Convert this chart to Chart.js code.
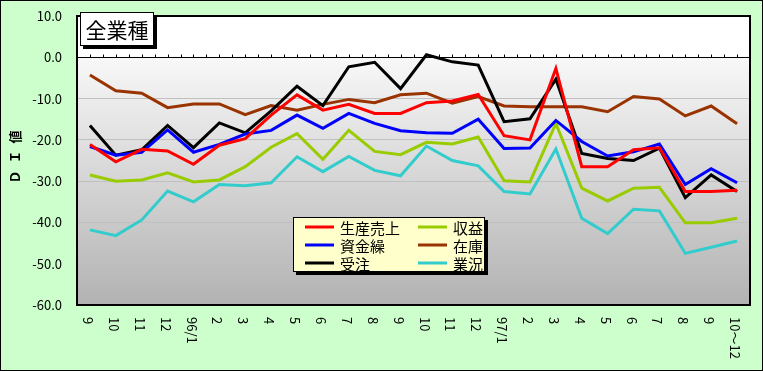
<!DOCTYPE html>
<html>
<head>
<meta charset="utf-8">
<script src="https://cdn.jsdelivr.net/npm/chart.js@4"></script>
<style>
  html, body { margin: 0; padding: 0; background: #CCFFCC; }
  canvas { display: block; }
</style>
</head>
<body>
<canvas id="chart" width="763" height="371"></canvas>
<script>
// 月ラベル
const months = ['9', '10', '11', '12', '96/1', '2', '3', '4', '5', '6', '7', '8', '9',
  '10', '11', '12', '97/1', '2', '3', '4', '5', '6', '7', '8', '9', '10～12'];

const production = [-21.1, -25.3, -22.3, -22.7, -25.9, -21.3, -19.7, -14.0, -9.1, -12.8, -11.4, -13.6, -13.6,
  -11.0, -10.6, -9.0, -19.0, -20.0, -2.7, -26.5, -26.5, -22.4, -21.9, -32.5, -32.5, -32.2];
const funding = [-21.6, -23.7, -23.0, -17.6, -23.0, -21.1, -18.6, -17.7, -14.0, -17.2, -13.6, -16.0, -17.8,
  -18.3, -18.4, -15.0, -22.1, -22.0, -15.3, -20.4, -23.9, -22.9, -21.0, -30.8, -27.0, -30.4];
const orders = [-16.5, -23.7, -22.4, -16.5, -21.9, -15.9, -18.3, -13.0, -7.0, -11.7, -2.3, -1.2, -7.6,
  0.6, -1.1, -1.9, -15.6, -14.9, -5.3, -23.3, -24.5, -25.0, -22.0, -34.0, -28.5, -32.5];
const profit = [-28.5, -30.0, -29.7, -28.0, -30.2, -29.7, -26.5, -21.8, -18.5, -24.7, -17.7, -22.8, -23.6,
  -20.6, -21.0, -19.3, -29.9, -30.2, -16.0, -31.7, -34.8, -31.7, -31.5, -40.1, -40.1, -39.0];
const stock = [-4.3, -8.1, -8.7, -12.2, -11.3, -11.3, -13.9, -11.7, -12.8, -11.4, -10.2, -11.0, -9.1,
  -8.7, -11.1, -9.5, -11.8, -12.0, -12.0, -12.0, -13.2, -9.5, -10.1, -14.2, -11.8, -16.1];
const business = [-41.8, -43.2, -39.4, -32.4, -35.0, -30.8, -31.1, -30.4, -24.1, -27.7, -24.0, -27.4, -28.7,
  -21.5, -25.0, -26.3, -32.5, -33.1, -22.2, -39.0, -42.7, -36.8, -37.2, -47.5, -46.0, -44.5];

const FONT = "'Noto Sans CJK JP', 'Noto Sans', sans-serif";

function makeSet(label, data, color) {
  return {
    label, data,
    borderColor: color,
    backgroundColor: color,
    borderWidth: 3,
    pointRadius: 0,
    tension: 0,
  };
}

// 背景・枠・軸・凡例などを描く
const decor = {
  id: 'decor',
  beforeDraw(chart) {
    const { ctx, chartArea: a, scales: { y } } = chart;
    const y0 = y.getPixelForValue(0);
    ctx.save();
    ctx.fillStyle = '#FFFFFF';
    ctx.fillRect(a.left, a.top, a.right - a.left, y0 - a.top);
    const g = ctx.createLinearGradient(0, y0, 0, a.bottom);
    g.addColorStop(0, '#F8F8F8');
    g.addColorStop(1, '#B2B2B2');
    ctx.fillStyle = g;
    ctx.fillRect(a.left, y0, a.right - a.left, a.bottom - y0);
    ctx.restore();
  },
  beforeDatasetsDraw(chart) {
    const { ctx, chartArea: a, scales: { x, y } } = chart;
    const y0 = Math.round(y.getPixelForValue(0)) + 0.5;
    ctx.save();
    ctx.strokeStyle = '#000';
    ctx.lineWidth = 1;
    ctx.beginPath();
    ctx.moveTo(a.left, y0);
    ctx.lineTo(a.right, y0);
    const half = (x.getPixelForValue(1) - x.getPixelForValue(0)) / 2;
    for (let i = 0; i < months.length; i++) {
      const px = Math.round(x.getPixelForValue(i)) + 0.5;
      ctx.moveTo(px, y0 - 3); ctx.lineTo(px, y0);
      if (i < months.length - 1) {
        const pm = Math.round(x.getPixelForValue(i) + half) + 0.5;
        ctx.moveTo(pm, y0 - 3); ctx.lineTo(pm, y0);
      }
    }
    ctx.stroke();
    ctx.restore();
  },
  afterDraw(chart) {
    const { ctx, chartArea: a, scales: { x } } = chart;
    ctx.save();

    // プロット枠
    ctx.strokeStyle = '#000';
    ctx.lineWidth = 2;
    ctx.strokeRect(a.left, a.top, a.right - a.left, a.bottom - a.top);

    // X軸ラベル（縦書き）
    ctx.fillStyle = '#000';
    ctx.font = '13px ' + FONT;
    ctx.textAlign = 'left';
    ctx.textBaseline = 'middle';
    months.forEach((m, i) => {
      ctx.save();
      ctx.translate(x.getPixelForValue(i) - 2, a.bottom + 12);
      ctx.rotate(Math.PI / 2);
      ctx.fillText(m, 0, 0);
      ctx.restore();
    });

    // Y軸タイトル
    ctx.save();
    ctx.translate(15, (a.top + a.bottom) / 2 - 4);
    ctx.rotate(-Math.PI / 2);
    ctx.font = 'bold 13px ' + FONT;
    ctx.letterSpacing = '7px';
    ctx.textAlign = 'center';
    ctx.fillText('ＤＩ値', 3, 0);
    ctx.restore();

    // タイトルボックス
    ctx.fillStyle = '#000';
    ctx.fillRect(83, 15, 74, 34);
    ctx.fillStyle = '#FFF';
    ctx.fillRect(80, 12, 74, 34);
    ctx.lineWidth = 1;
    ctx.strokeRect(80.5, 12.5, 73, 33);
    ctx.fillStyle = '#000';
    ctx.font = '21px ' + FONT;
    ctx.textAlign = 'center';
    ctx.textBaseline = 'middle';
    ctx.fillText('全業種', 117, 30);

    // 凡例
    const lx = 293, ly = 217, lw = 192, lh = 55;
    ctx.fillStyle = '#000';
    ctx.fillRect(lx + 3, ly + 3, lw, lh);
    ctx.fillStyle = '#FFFFCC';
    ctx.fillRect(lx, ly, lw, lh);
    ctx.strokeStyle = '#000';
    ctx.strokeRect(lx + 0.5, ly + 0.5, lw - 1, lh - 1);
    ctx.font = '15px ' + FONT;
    ctx.textAlign = 'left';
    const cols = [305, 418];
    const rows = [227, 245, 263];
    chart.data.datasets.forEach((ds, i) => {
      const cx = cols[Math.floor(i / 3)];
      const cy = rows[i % 3];
      ctx.strokeStyle = ds.borderColor;
      ctx.lineWidth = 3;
      ctx.beginPath();
      ctx.moveTo(cx, cy);
      ctx.lineTo(cx + 29, cy);
      ctx.stroke();
      ctx.fillStyle = '#000';
      ctx.fillText(ds.label, cx + 35, cy + 1);
    });

    // 外枠
    ctx.strokeStyle = '#000';
    ctx.lineWidth = 1;
    ctx.strokeRect(0.5, 0.5, chart.width - 1, chart.height - 1);
    ctx.restore();
  }
};

new Chart(document.getElementById('chart'), {
  type: 'line',
  data: {
    labels: months,
    datasets: [
      makeSet('生産売上', production, '#FF0000'),
      makeSet('資金繰', funding, '#0000FF'),
      makeSet('受注', orders, '#000000'),
      makeSet('収益', profit, '#99CC00'),
      makeSet('在庫', stock, '#993300'),
      makeSet('業況', business, '#33CCCC'),
    ]
  },
  options: {
    responsive: false,
    animation: false,
    devicePixelRatio: 1,
    layout: { padding: { top: 16, right: 13, left: 0, bottom: 0 } },
    plugins: { legend: { display: false }, tooltip: { enabled: false } },
    scales: {
      x: {
        offset: true,
        grid: { display: false },
        border: { display: false },
        ticks: { display: false },
        afterFit: (s) => { s.height = 66; }
      },
      y: {
        min: -60,
        max: 10,
        afterFit: (s) => { s.width = 77; s.paddingTop = 0; s.paddingBottom = 0; },
        border: { display: false },
        grid: {
          drawTicks: false,
          color: (c) => (c.tick && (c.tick.value === 0 || c.tick.value === 10 || c.tick.value === -60)) ? 'rgba(0,0,0,0)' : '#C0C0C0',
        },
        ticks: {
          stepSize: 10,
          padding: 15,
          color: '#000',
          font: { family: FONT, size: 13 },
          callback: (v) => v.toFixed(1),
        }
      }
    }
  },
  plugins: [decor]
});
</script>
</body>
</html>
